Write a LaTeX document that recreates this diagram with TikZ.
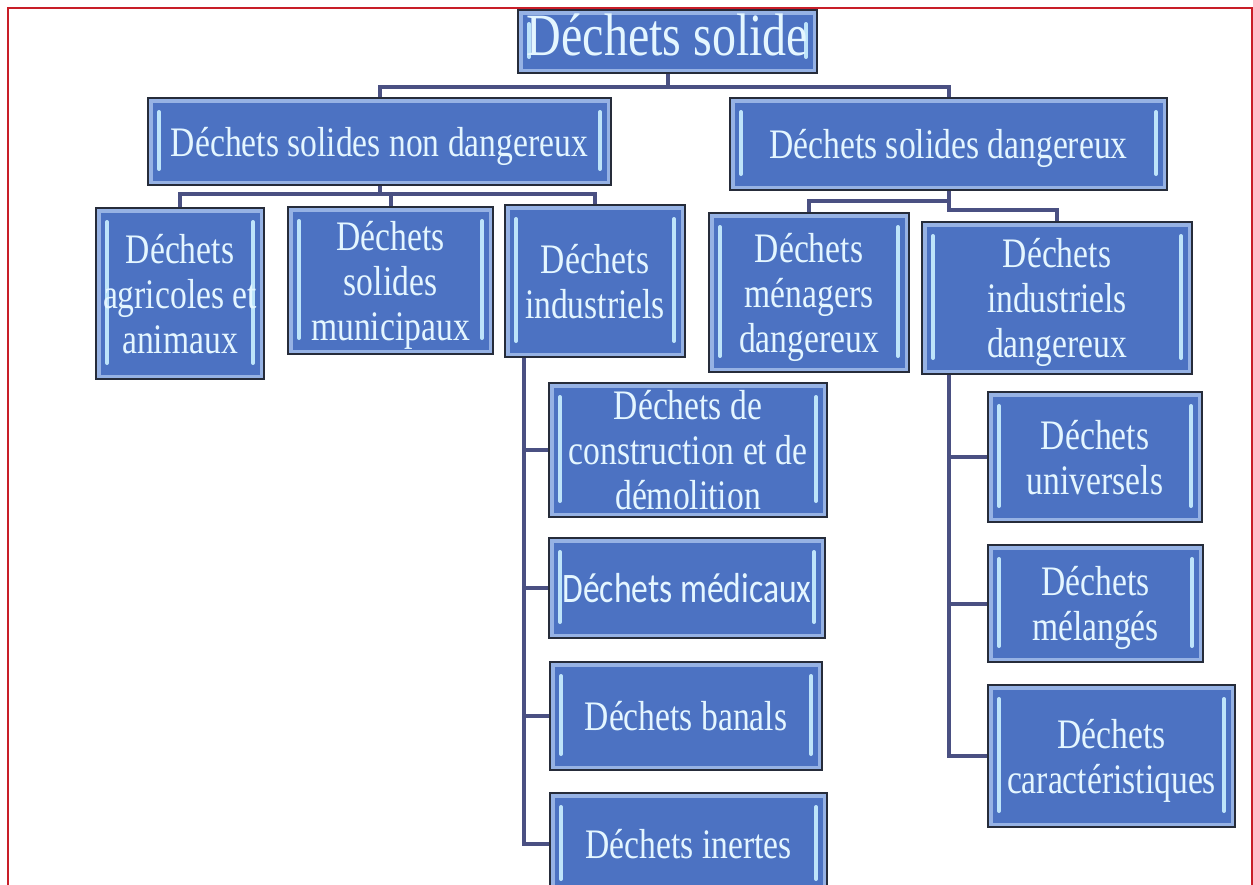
\documentclass[tikz,border=0pt]{standalone}
\usepackage{fontspec}
\setmainfont[FakeStretch=0.8]{Liberation Serif}
\newfontfamily\calibri[FakeStretch=0.8]{Carlito}
\usetikzlibrary{positioning,backgrounds}
\definecolor{bleu}{RGB}{76,114,194}
\definecolor{bleupale}{RGB}{150,178,228}
\definecolor{barreclair}{RGB}{190,228,250}
\definecolor{cadre}{RGB}{38,44,58}
\definecolor{lienc}{RGB}{74,80,130}
\definecolor{texte}{RGB}{228,246,255}
\definecolor{rouge}{RGB}{200,30,40}
\tikzset{
  barre/.style={barreclair,line width=4pt,line cap=round},
  lien/.style={lienc,line width=4pt},
  boite/.style={draw=cadre,line width=2.4pt,fill=bleu,text=texte,align=center,
    inner sep=0pt,text depth=0pt,font=\fontsize{42}{45}\selectfont,
    path picture={
      \draw[bleupale,line width=9pt] (path picture bounding box.north west)
        rectangle (path picture bounding box.south east);
      \draw[barre] ([shift={(11pt,-14pt)}]path picture bounding box.north west)
        -- ([shift={(11pt,16pt)}]path picture bounding box.south west);
      \draw[barre] ([shift={(-11pt,-14pt)}]path picture bounding box.north east)
        -- ([shift={(-11pt,16pt)}]path picture bounding box.south east);
    }},
}

\begin{document}
\begin{tikzpicture}[x=1pt,y=-1pt]
  \useasboundingbox (0,0) rectangle (1253,884);
  \node[boite,minimum width=299pt,minimum height=63pt,text depth=14pt,
    font=\fontsize{60}{64}\selectfont] (racine) at (667.5,41.5) {Déchets solide};
  \node[boite,minimum width=463pt,minimum height=87pt] (nondang) at (379.5,141.5) {Déchets solides non dangereux};
  \node[boite,minimum width=437pt,minimum height=92pt] (dang) at (948.5,144) {Déchets solides dangereux};
  \node[boite,minimum width=168pt,minimum height=171pt] (agri) at (180,293.5) {Déchets\\agricoles et\\animaux};
  \node[boite,minimum width=205pt,minimum height=147pt] (muni) at (390.5,280.5) {Déchets\\solides\\municipaux};
  \node[boite,minimum width=180pt,minimum height=152pt] (indus) at (595,281) {Déchets\\industriels};
  \node[boite,minimum width=200pt,minimum height=159pt] (menag) at (809,292.5) {Déchets\\ménagers\\dangereux};
  \node[boite,minimum width=270pt,minimum height=152pt] (indusdang) at (1057,298) {Déchets\\industriels\\dangereux};
  \node[boite,minimum width=278pt,minimum height=134pt] (constr) at (688,450) {Déchets de\\construction et de\\démolition};
  \node[boite,minimum width=276pt,minimum height=100pt,font=\calibri\fontsize{42}{45}\selectfont] (medic) at (687,588) {Déchets médicaux};
  \node[boite,minimum width=272pt,minimum height=108pt] (banal) at (686,716) {Déchets banals};
  \node[boite,minimum width=277pt,minimum height=102pt] (inert) at (688.5,844) {Déchets inertes};
  \node[boite,minimum width=214pt,minimum height=130pt] (univ) at (1095,457) {Déchets\\universels};
  \node[boite,minimum width=215pt,minimum height=117pt] (melang) at (1095.5,603.5) {Déchets\\mélangés};
  \node[boite,minimum width=247pt,minimum height=142pt] (caract) at (1111.5,756) {Déchets\\caractéristiques};
  \begin{pgfonlayer}{background}
    \fill[white] (0,0) rectangle (1253,884);
    \draw[lien] (racine.south) -- ++(0,13) -| (nondang.north);
    \draw[lien] (racine.south) -- ++(0,13) -| (dang.north);
    \foreach \b in {agri,muni,indus}
      \draw[lien] (nondang.south) -- ++(0,8) -| (\b.north);
    \draw[lien] (dang.south) -- ++(0,10) -| (menag.north);
    \draw[lien] (dang.south) -- ++(0,19) -| (indusdang.north);
    \foreach \b in {constr,medic,banal,inert}
      \draw[lien] ([xshift=20pt]indus.south west) |- (\b.west);
    \foreach \b in {univ,melang,caract}
      \draw[lien] ([xshift=28pt]indusdang.south west) |- (\b.west);
  \end{pgfonlayer}
  \draw[rouge,line width=2pt] (8,895) -- (8,8) -- (1251.5,8) -- (1251.5,895);
\end{tikzpicture}
\end{document}
